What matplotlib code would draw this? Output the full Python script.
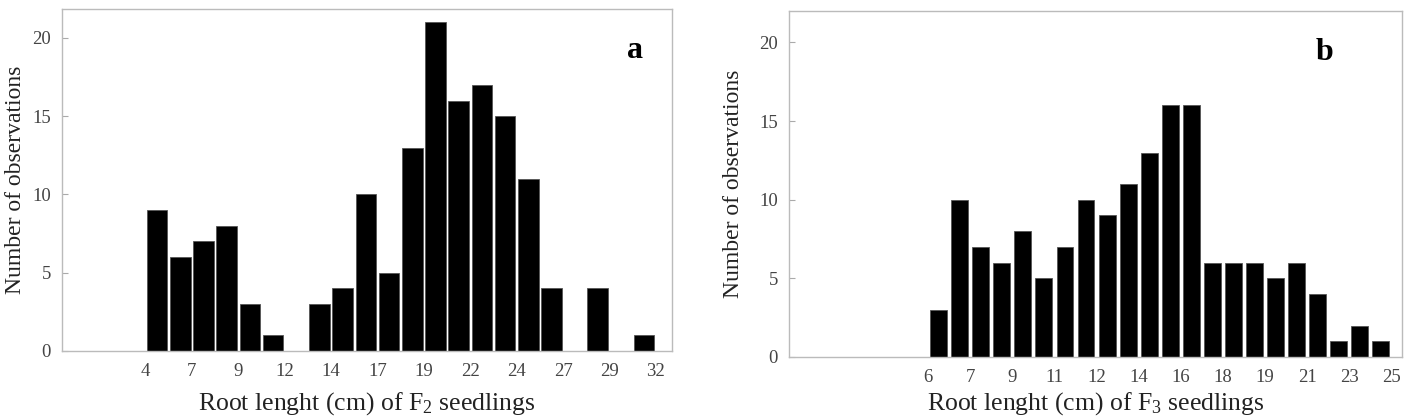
import numpy as np
import matplotlib.pyplot as plt

plt.rcParams['font.family'] = ['Liberation Serif', 'DejaVu Serif']
plt.rcParams['mathtext.fontset'] = 'custom'
plt.rcParams['mathtext.rm'] = 'Liberation Serif'
plt.rcParams['mathtext.it'] = 'Liberation Serif:italic'

# panel a: F2 seedlings
counts_a = [9, 6, 7, 8, 3, 1, 0, 3, 4, 10, 5, 13, 21, 16, 17, 15, 11, 4, 0, 4, 0, 1]
ticks_a = ['4', '7', '9', '12', '14', '17', '19', '22', '24', '27', '29', '32']

# panel b: F3 seedlings
counts_b = [3, 10, 7, 6, 8, 5, 7, 10, 9, 11, 13, 16, 16, 6, 6, 6, 5, 6, 4, 1, 2, 1]
ticks_b = ['6', '7', '9', '11', '12', '14', '16', '18', '19', '21', '23', '25']

fig = plt.figure(figsize=(14.1, 4.19), dpi=100)
ax1 = fig.add_axes([0.044, 0.1623, 0.4326, 0.8162])
ax2 = fig.add_axes([0.5596, 0.148, 0.4347, 0.8257])


def draw(ax, counts, ticks, width, xlim, ylim, letter, lx, xlabel, ylx, xpad):
    x = np.arange(len(counts)) + 0.5
    ax.bar(x, counts, width=width, color='black', edgecolor='#555555', linewidth=0.6)
    ax.set_xlim(*xlim)
    ax.set_ylim(*ylim)
    ax.set_xticks(np.arange(0, len(counts) + 1, 2))
    ax.set_xticklabels(ticks)
    ax.set_yticks([0, 5, 10, 15, 20])
    ax.tick_params(axis='x', length=0, pad=9, labelsize=13.5, labelcolor='#444444')
    ax.tick_params(axis='y', direction='in', length=4, width=0.8, color='#aaaaaa',
                   pad=8, labelsize=13.5, labelcolor='#444444')
    for s in ax.spines.values():
        s.set_color('#bbbbbb')
        s.set_linewidth(1.0)
    ax.set_xlabel(xlabel, fontsize=18.5, color='#222222', labelpad=xpad)
    ax.set_ylabel('Number of observations', fontsize=17, color='#222222')
    ax.yaxis.set_label_coords(ylx, 0.5)
    ax.text(lx, 0.88, letter, transform=ax.transAxes, fontsize=23, fontweight='bold',
            ha='center', va='center')


draw(ax1, counts_a, ticks_a, 0.89, (-3.6, 22.7), (0, 21.85), 'a', 0.939,
     r'Root lenght (cm) of F$_2$ seedlings', -0.059, 7)
draw(ax2, counts_b, ticks_b, 0.8, (-6.6, 22.5), (0, 22.0), 'b', 0.874,
     r'Root lenght (cm) of F$_3$ seedlings', -0.073, 3)

fig.savefig('out.png', dpi=100)
